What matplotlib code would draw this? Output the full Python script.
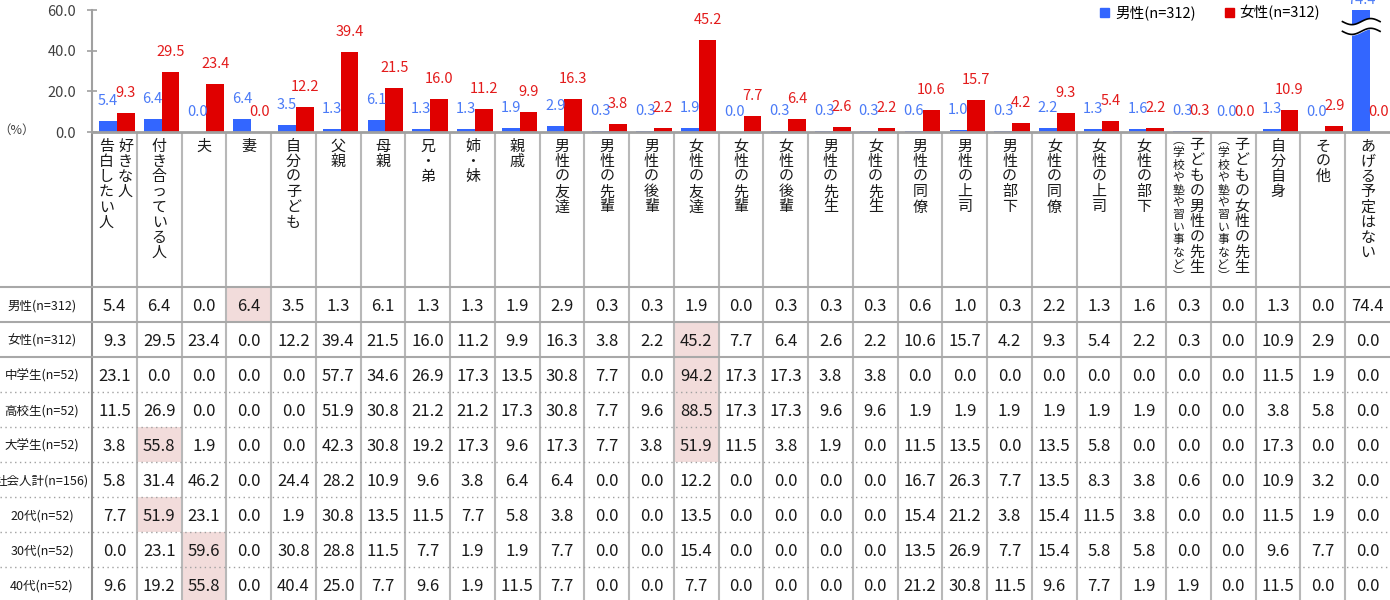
import matplotlib
matplotlib.use('Agg')
import matplotlib.pyplot as plt
from matplotlib.patches import Patch, Rectangle
import numpy as np

plt.rcParams['font.family'] = ['Noto Sans CJK JP', 'DejaVu Sans']

# ---------------- data ----------------
categories = [
    "好きな人\n告白したい人", "付き合っている人", "夫", "妻", "自分の子ども", "父親", "母親",
    "兄・弟", "姉・妹", "親戚", "男性の友達", "男性の先輩", "男性の後輩", "女性の友達",
    "女性の先輩", "女性の後輩", "男性の先生", "女性の先生", "男性の同僚", "男性の上司",
    "男性の部下", "女性の同僚", "女性の上司", "女性の部下",
    "子どもの男性の先生\n（学校や塾や習い事など）", "子どもの女性の先生\n（学校や塾や習い事など）",
    "自分自身", "その他", "あげる予定はない",
]
series_names = ["男性(n=312)", "女性(n=312)"]
male = [5.4, 6.4, 0.0, 6.4, 3.5, 1.3, 6.1, 1.3, 1.3, 1.9, 2.9, 0.3, 0.3, 1.9, 0.0,
        0.3, 0.3, 0.3, 0.6, 1.0, 0.3, 2.2, 1.3, 1.6, 0.3, 0.0, 1.3, 0.0, 74.4]
female = [9.3, 29.5, 23.4, 0.0, 12.2, 39.4, 21.5, 16.0, 11.2, 9.9, 16.3, 3.8, 2.2, 45.2, 7.7,
          6.4, 2.6, 2.2, 10.6, 15.7, 4.2, 9.3, 5.4, 2.2, 0.3, 0.0, 10.9, 2.9, 0.0]

row_labels = ["男性(n=312)", "女性(n=312)", "中学生(n=52)", "高校生(n=52)", "大学生(n=52)",
              "社会人計(n=156)", "20代(n=52)", "30代(n=52)", "40代(n=52)"]
junior_high = [23.1, 0.0, 0.0, 0.0, 0.0, 57.7, 34.6, 26.9, 17.3, 13.5, 30.8, 7.7, 0.0, 94.2, 17.3,
               17.3, 3.8, 3.8, 0.0, 0.0, 0.0, 0.0, 0.0, 0.0, 0.0, 0.0, 11.5, 1.9, 0.0]
high_school = [11.5, 26.9, 0.0, 0.0, 0.0, 51.9, 30.8, 21.2, 21.2, 17.3, 30.8, 7.7, 9.6, 88.5, 17.3,
               17.3, 9.6, 9.6, 1.9, 1.9, 1.9, 1.9, 1.9, 1.9, 0.0, 0.0, 3.8, 5.8, 0.0]
university = [3.8, 55.8, 1.9, 0.0, 0.0, 42.3, 30.8, 19.2, 17.3, 9.6, 17.3, 7.7, 3.8, 51.9, 11.5,
              3.8, 1.9, 0.0, 11.5, 13.5, 0.0, 13.5, 5.8, 0.0, 0.0, 0.0, 17.3, 0.0, 0.0]
workers = [5.8, 31.4, 46.2, 0.0, 24.4, 28.2, 10.9, 9.6, 3.8, 6.4, 6.4, 0.0, 0.0, 12.2, 0.0,
           0.0, 0.0, 0.0, 16.7, 26.3, 7.7, 13.5, 8.3, 3.8, 0.6, 0.0, 10.9, 3.2, 0.0]
twenties = [7.7, 51.9, 23.1, 0.0, 1.9, 30.8, 13.5, 11.5, 7.7, 5.8, 3.8, 0.0, 0.0, 13.5, 0.0,
            0.0, 0.0, 0.0, 15.4, 21.2, 3.8, 15.4, 11.5, 3.8, 0.0, 0.0, 11.5, 1.9, 0.0]
thirties = [0.0, 23.1, 59.6, 0.0, 30.8, 28.8, 11.5, 7.7, 1.9, 1.9, 7.7, 0.0, 0.0, 15.4, 0.0,
            0.0, 0.0, 0.0, 13.5, 26.9, 7.7, 15.4, 5.8, 5.8, 0.0, 0.0, 9.6, 7.7, 0.0]
forties = [9.6, 19.2, 55.8, 0.0, 40.4, 25.0, 7.7, 9.6, 1.9, 11.5, 7.7, 0.0, 0.0, 7.7, 0.0,
           0.0, 0.0, 0.0, 21.2, 30.8, 11.5, 9.6, 7.7, 1.9, 1.9, 0.0, 11.5, 0.0, 0.0]
# highlighted (row, column) cells
highlight_cells = [(0, 3), (1, 13), (2, 13), (3, 13), (4, 1), (4, 13), (6, 1), (7, 2), (8, 2)]
yticks = [0, 20, 40, 60]

table_rows = [male, female, junior_high, high_school, university, workers, twenties, thirties, forties]

# ---------------- style / layout ----------------
W, H = 1390, 600
AX_L, AX_R, AX_TOP, AX_BOT = 92, 1390, 10, 132
HEADER_BOT, ROW_H = 287.3, 35.0
BLUE, RED = '#3366ff', '#e00000'
BLUE_TXT, RED_TXT = '#4a7af7', '#e31b1b'
GRID = '#b8b8b8'
HL = '#f2dcdb'
n = len(categories)
colw = (AX_R - AX_L) / n
ymax = yticks[-1]

fig = plt.figure(figsize=(W / 100, H / 100), dpi=100)
fig.patch.set_facecolor('white')

ax = fig.add_axes([AX_L / W, 1 - AX_BOT / H, (AX_R - AX_L) / W, (AX_BOT - AX_TOP) / H])
ax.set_facecolor('none')
tax = fig.add_axes([0, 0, 1, 1 - AX_BOT / H], zorder=-1)
tax.set_facecolor('none')
tax.set_xlim(-0.5 - AX_L / colw, n - 0.5)
tax.set_ylim(H, AX_BOT)
tax.axis('off')

# ---------------- bars ----------------
x = np.arange(n)
bw = 17.7 / colw
off = 2.5 / colw
ax.bar(x + off - bw / 2, male, bw, color=BLUE, zorder=2)
ax.bar(x + off + bw / 2, female, bw, color=RED, zorder=2)
ax.set_xlim(-0.5, n - 0.5)
ax.set_ylim(0, ymax)

for vals, sign, col in [(male, -1, BLUE_TXT), (female, 1, RED_TXT)]:
    for i, v in enumerate(vals):
        xc = i + off + sign * bw / 2
        if v > ymax:
            y, dy = ymax, 7
        else:
            y, dy = v, 14.4
        ax.annotate(f'{v:.1f}', xy=(xc, y), xytext=(0, dy), textcoords='offset points',
                    ha='center', va='center', color=col, fontsize=10.5,
                    annotation_clip=False, zorder=4)

# break marks for bars over the axis maximum
for i, v in enumerate(male):
    if v > ymax:
        xc = i + off - bw / 2
        xs = np.linspace(xc - 0.42, xc + 0.42, 60)
        wave = np.sin((xs - xs[0]) / (xs[-1] - xs[0]) * 2 * np.pi + np.pi) * 1.5
        y1 = ymax * 0.905 + wave
        y2 = ymax * 0.825 + wave
        ax.fill_between(xs, y2, y1, color='white', zorder=3, clip_on=False)
        ax.plot(xs, y1, color='black', lw=1.2, zorder=3.5, clip_on=False)
        ax.plot(xs, y2, color='black', lw=1.2, zorder=3.5, clip_on=False)

ax.set_yticks(yticks)
ax.set_yticklabels([f'{t:.1f}' for t in yticks])
ax.tick_params(axis='y', direction='inout', length=7, width=1.2, color='#a0a0a0',
               labelsize=10.5, labelcolor='#404040', pad=8)
ax.tick_params(axis='x', length=0, labelbottom=False)
for s in ['top', 'right']:
    ax.spines[s].set_visible(False)
ax.spines['left'].set_color('#a0a0a0')
ax.spines['left'].set_linewidth(1.5)
ax.spines['bottom'].set_color('#a0a0a0')
ax.spines['bottom'].set_linewidth(2)

leg = ax.legend(handles=[Patch(color=BLUE, label=series_names[0]),
                         Patch(color=RED, label=series_names[1])],
                loc='center right', bbox_to_anchor=(1320 / W, 1 - 13 / H),
                bbox_transform=fig.transFigure, ncol=2, frameon=False,
                handlelength=0.6, handleheight=0.6, handletextpad=0.4,
                columnspacing=2.0, fontsize=10.5, borderpad=0, borderaxespad=0)

fig.text(17 / W, 1 - 130 / H, '（%）', ha='center', va='center', fontsize=9, color='#404040')

# ---------------- category header (vertical text) ----------------
vert_map = {'（': '︵', '）': '︶'}


def vtext(xc, s, top, pitch, fs):
    for k, ch in enumerate(s):
        tax.text(xc, top + k * pitch, vert_map.get(ch, ch), ha='center', va='center',
                 fontsize=fs, color='#1a1a1a')


for i, cat in enumerate(categories):
    parts = cat.split('\n')
    if len(parts) == 1:
        vtext(i, parts[0], 146.5, 15.25, 10.8)
    elif parts[1].startswith('（'):
        vtext(i + 8.5 / colw, parts[0], 145, 15.4, 10.8)
        vtext(i - 10 / colw, parts[1], 140.5, 12.4, 8.5)
    else:
        vtext(i + 11 / colw, parts[0], 146.5, 15.25, 10.8)
        vtext(i - 8.2 / colw, parts[1], 146.5, 15.25, 10.8)

# ---------------- table ----------------
xl = -0.5 - AX_L / colw
for (r, c) in highlight_cells:
    tax.add_patch(Rectangle((c - 0.5, HEADER_BOT + r * ROW_H), 1, ROW_H,
                            facecolor=HL, edgecolor='none', zorder=0))

for k in range(1, n):
    tax.plot([k - 0.5, k - 0.5], [AX_BOT, H], color=GRID, lw=1.5, zorder=1)
tax.plot([-0.5, -0.5], [AX_BOT, H], color='#8c8c8c', lw=1.5, zorder=1)

for r in range(len(row_labels) + 1):
    yy = HEADER_BOT + r * ROW_H
    if r <= 2:
        tax.plot([xl, n - 0.5], [yy, yy], color='#a8a8a8', lw=1.5, zorder=1)
    else:
        tax.plot([xl, n - 0.5], [yy, yy], color='#a0a0a0', lw=1.0,
                 linestyle=(0, (1, 2.5)), zorder=1)

for r, (lab, vals) in enumerate(zip(row_labels, table_rows)):
    yc = HEADER_BOT + (r + 0.5) * ROW_H + 1.5
    tax.text(xl + 42 / colw, yc, lab, ha='center', va='center', fontsize=9, color='#1a1a1a')
    for c, v in enumerate(vals):
        tax.text(c, yc, f'{v:.1f}', ha='center', va='center', fontsize=12, color='#1a1a1a')

fig.savefig('out.png', dpi=100, facecolor='white')
